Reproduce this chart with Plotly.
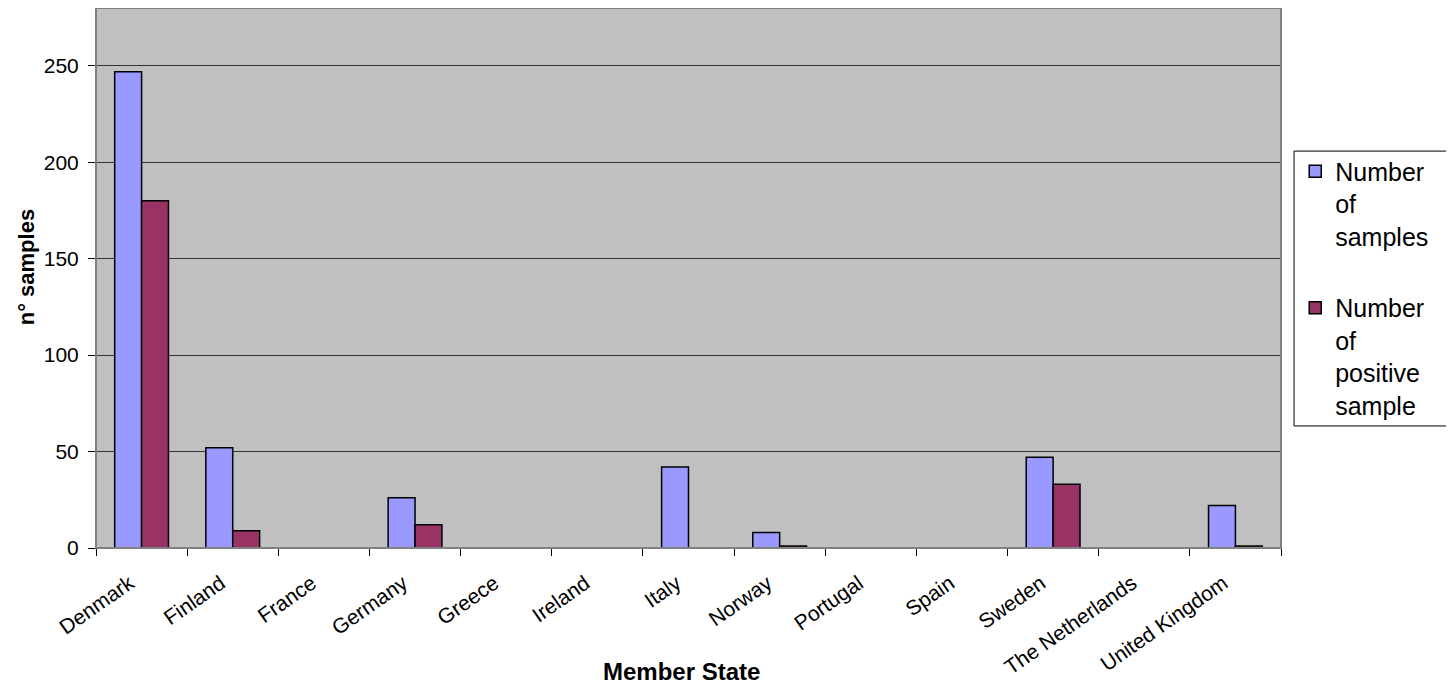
import plotly.graph_objects as go

countries = ["Denmark", "Finland", "France", "Germany", "Greece", "Ireland", "Italy",
             "Norway", "Portugal", "Spain", "Sweden", "The Netherlands", "United Kingdom"]
n_samples = [247, 52, 0, 26, 0, 0, 42, 8, 0, 0, 47, 0, 22]
n_positive = [180, 9, 0, 12, 0, 0, 0, 1, 0, 0, 33, 0, 1]

FONT = "Liberation Sans, Arial, sans-serif"

fig = go.Figure()
fig.add_trace(go.Bar(
    x=countries, y=n_samples, name="Number<br>of<br>samples",
    marker=dict(color="#9999FF", line=dict(color="black", width=1.5)),
    legendgroup="a",
))
fig.add_trace(go.Bar(
    x=countries, y=n_positive, name="Number<br>of<br>positive<br>sample",
    marker=dict(color="#993366", line=dict(color="black", width=1.5)),
    legendgroup="b",
))

fig.update_layout(
    width=1446, height=683,
    margin=dict(l=88, r=173, t=0, b=143),
    paper_bgcolor="white",
    plot_bgcolor="#C0C0C0",
    barmode="group",
    bargap=0.41,
    bargroupgap=0,
    font=dict(family=FONT, color="black", size=21),
    showlegend=True,
    legend=dict(
        x=1.012, xanchor="left", y=0.74, yanchor="top",
        font=dict(family=FONT, size=25, color="black"),
        bgcolor="rgba(0,0,0,0)", borderwidth=0,
        valign="top", traceorder="grouped", tracegroupgap=36,
    ),
    xaxis=dict(
        showgrid=False, showline=True, linecolor="black", linewidth=1,
        ticks="outside", tickson="boundaries", ticklen=7, tickcolor="black",
        tickangle=-35, tickfont=dict(size=21, family=FONT),
        ticklabelstandoff=14, ticklabelshift=-12,
    ),
    yaxis=dict(
        range=[0, 280], dtick=50, tick0=0,
        showgrid=True, gridcolor="#333333", gridwidth=1,
        showline=True, linecolor="black", linewidth=1,
        ticks="outside", ticklen=7, tickcolor="black",
        tickfont=dict(size=21, family=FONT), zeroline=False,
        ticklabelstandoff=5,
    ),
    shapes=[
        dict(type="rect", xref="paper", yref="paper", x0=0, x1=1, y0=0, y1=1,
             line=dict(color="#808080", width=2), layer="above"),
        dict(type="rect", xref="paper", yref="paper", x0=1.011, x1=1.141, y0=0.226, y1=0.735,
             line=dict(color="black", width=1), layer="above"),
    ],
    annotations=[
        dict(text="<b>n° samples</b>", xref="paper", yref="paper",
             x=-0.059, y=0.52, xanchor="center", yanchor="middle", textangle=-90,
             showarrow=False, font=dict(size=22, family=FONT)),
        dict(text="<b>Member State</b>", xref="paper", yref="paper",
             x=0.494, y=-0.228, xanchor="center", yanchor="middle",
             showarrow=False, font=dict(size=24, family=FONT)),
    ],
)

fig.write_html("out.html")
